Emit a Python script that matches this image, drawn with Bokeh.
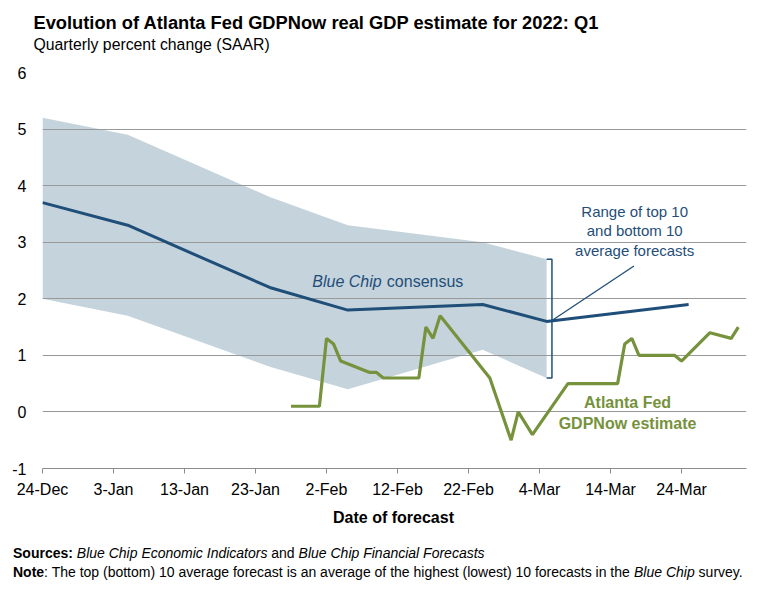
import pandas as pd
from bokeh.plotting import figure
from bokeh.models import Label, Range1d, FixedTicker
from bokeh.embed import file_html
from bokeh.resources import INLINE

ORIGIN = pd.Timestamp("2021-12-24")

tick_dates = ["2021-12-24", "2022-01-03", "2022-01-13", "2022-01-23", "2022-02-02",
              "2022-02-12", "2022-02-22", "2022-03-04", "2022-03-14", "2022-03-24"]
tick_labels = ["24-Dec", "3-Jan", "13-Jan", "23-Jan", "2-Feb",
               "12-Feb", "22-Feb", "4-Mar", "14-Mar", "24-Mar"]
y_ticks = [-1, 0, 1, 2, 3, 4, 5, 6]
y_tick_labels = ["-1", "0", "1", "2", "3", "4", "5", "6"]

bc_dates = ["2021-12-24", "2022-01-05", "2022-01-25", "2022-02-05",
            "2022-02-24", "2022-03-05", "2022-03-25"]
bc_consensus = [3.7, 3.3, 2.2, 1.8, 1.9, 1.6, 1.9]

band_dates = ["2021-12-24", "2022-01-05", "2022-01-25", "2022-02-05",
              "2022-02-24", "2022-03-05"]
top10_avg = [5.2, 4.9, 3.8, 3.3, 3.0, 2.7]
bottom10_avg = [2.0, 1.7, 0.8, 0.4, 1.1, 0.6]

gdpnow_dates = ["2022-01-28", "2022-02-01", "2022-02-02", "2022-02-03", "2022-02-04",
                "2022-02-08", "2022-02-09", "2022-02-10", "2022-02-15", "2022-02-16",
                "2022-02-17", "2022-02-18", "2022-02-25", "2022-02-28", "2022-03-01",
                "2022-03-03", "2022-03-08", "2022-03-15", "2022-03-16", "2022-03-17",
                "2022-03-18", "2022-03-23", "2022-03-24", "2022-03-28", "2022-03-31",
                "2022-04-01"]
gdpnow = [0.1, 0.1, 1.3, 1.2, 0.9,
          0.7, 0.7, 0.6, 0.6, 1.5,
          1.3, 1.7, 0.6, -0.5, 0.0,
          -0.4, 0.5, 0.5, 1.2, 1.3,
          1.0, 1.0, 0.9, 1.4, 1.3,
          1.5]


def days(dates):
    return [(pd.Timestamp(d) - ORIGIN) / pd.Timedelta(days=1) for d in dates]


BLUE = "#1f4e79"
GREEN = "#76923c"
BAND = "#c5d3dc"
GRID = "#999999"
FONT = "Liberation Sans"
W = 758
TOP_H = 62
MAIN_H = 446
BOT_H = 592 - TOP_H - MAIN_H
BOT_Y0 = TOP_H + MAIN_H


def text_panel(h):
    f = figure(width=W, height=h, x_range=Range1d(0, W), y_range=Range1d(h, 0),
               output_backend="svg", toolbar_location=None, title=None,
               x_axis_location=None, y_axis_location=None, min_border=0)
    f.grid.visible = False
    f.outline_line_color = None
    return f


def tlabel(fig, text, x, y, align="left", style="normal", size="14px", color="#000000"):
    fig.add_layout(Label(x=x, y=y, text=text, text_align=align, text_baseline="middle",
                         text_font=FONT, text_font_style=style, text_color=color,
                         text_font_size=size))


# ---- header ----
top = text_panel(TOP_H)
tlabel(top, "Evolution of Atlanta Fed GDPNow real GDP estimate for 2022: Q1", 33, 22,
       style="bold", size="18.3px")
tlabel(top, "Quarterly percent change (SAAR)", 33, 44, size="15.8px")

# ---- main chart ----
p = figure(width=W, height=MAIN_H, x_range=Range1d(0, 99.15), y_range=Range1d(-1, 6),
           output_backend="svg", toolbar_location=None, title=None,
           min_border_left=42, min_border_right=12, min_border_top=10, min_border_bottom=40)
p.outline_line_color = None
p.background_fill_color = "white"

p.xgrid.grid_line_color = None
p.ygrid.grid_line_color = GRID
p.ygrid.grid_line_width = 1
p.yaxis.ticker = FixedTicker(ticks=y_ticks)
p.yaxis.major_label_overrides = {t: l for t, l in zip(y_ticks, y_tick_labels)}
p.yaxis.axis_line_color = None
p.yaxis.major_tick_line_color = None
p.yaxis.minor_tick_line_color = None
p.yaxis.major_tick_out = 0
p.yaxis.major_tick_in = 0
p.yaxis.major_label_standoff = 16
p.yaxis.major_label_text_font = FONT
p.yaxis.major_label_text_font_size = "16px"
p.yaxis.major_label_text_color = "#000000"

tick_days = [int(round(d)) for d in days(tick_dates)]
p.xaxis.ticker = FixedTicker(ticks=tick_days)
p.xaxis.major_label_overrides = {d: l for d, l in zip(tick_days, tick_labels)}
p.xaxis.axis_line_color = "#8c8c8c"
p.xaxis.major_tick_line_color = "#8c8c8c"
p.xaxis.minor_tick_line_color = None
p.xaxis.major_tick_out = 5
p.xaxis.major_tick_in = 0
p.xaxis.major_label_standoff = 7
p.xaxis.major_label_text_font = FONT
p.xaxis.major_label_text_font_size = "16px"
p.xaxis.major_label_text_color = "#000000"

p.varea(x=days(band_dates), y1=bottom10_avg, y2=top10_avg, fill_color=BAND, level="image")
p.line(days(bc_dates), bc_consensus, line_color=BLUE, line_width=3)
p.line(days(gdpnow_dates), gdpnow, line_color=GREEN, line_width=3.2)

# bracket marking the latest top/bottom range, plus leader line to its note
bx = days(band_dates)[-1]
p.line([bx, bx + 0.75, bx + 0.75, bx], [top10_avg[-1], top10_avg[-1], bottom10_avg[-1], bottom10_avg[-1]],
       line_color=BLUE, line_width=1.5)
p.line([bx + 0.8, bx + 12.3], [(top10_avg[-1] + bottom10_avg[-1]) / 2 - 0.03, 2.58],
       line_color=BLUE, line_width=1.3)


def dlabel(text, x, y, align="left", style="normal", color="#000000", size="16px"):
    p.add_layout(Label(x=x, y=y, text=text, text_align=align, text_baseline="middle",
                       text_font=FONT, text_font_style=style, text_color=color,
                       text_font_size=size))


dlabel("Range of top 10", 83.4, 3.54, align="center", color=BLUE, size="15px")
dlabel("and bottom 10", 83.4, 3.20, align="center", color=BLUE, size="15px")
dlabel("average forecasts", 83.4, 2.86, align="center", color=BLUE, size="15px")
dlabel("Blue Chip", 38.0, 2.30, style="italic", color=BLUE)
dlabel("consensus", 48.5, 2.30, color=BLUE)
dlabel("Atlanta Fed", 82.4, 0.16, align="center", style="bold", color=GREEN)
dlabel("GDPNow estimate", 82.4, -0.20, align="center", style="bold", color=GREEN)

# ---- footer ----
bot = text_panel(BOT_H)
tlabel(bot, "Date of forecast", 393, 516.5 - BOT_Y0, align="center", style="bold", size="16px")
tlabel(bot, "Sources:", 12.5, 552 - BOT_Y0, style="bold")
tlabel(bot, "Blue Chip Economic Indicators", 76.3, 552 - BOT_Y0, style="italic")
tlabel(bot, "and", 270.8, 552 - BOT_Y0)
tlabel(bot, "Blue Chip Financial Forecasts", 298.1, 552 - BOT_Y0, style="italic")
tlabel(bot, "Note", 12.5, 571 - BOT_Y0, style="bold")
tlabel(bot, ": The top (bottom) 10 average forecast is an average of the highest (lowest) 10 forecasts in the",
       43.6, 571 - BOT_Y0)
tlabel(bot, "Blue Chip", 633.5, 571 - BOT_Y0, style="italic")
tlabel(bot, "survey.", 698.1, 571 - BOT_Y0)

open("out.html", "w").write(file_html([top, p, bot], INLINE))
